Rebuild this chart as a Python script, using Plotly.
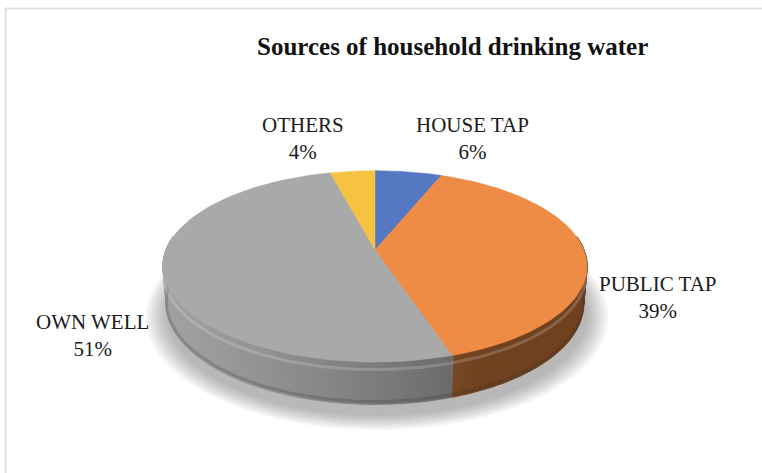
import numpy as np
import plotly.graph_objects as go

# Shares of household drinking water sources (percent)
categories = ["HOUSE TAP", "PUBLIC TAP", "OWN WELL", "OTHERS"]
shares = [6, 39, 51, 4]
top_colors = ["#5677c1", "#ee8c45", "#a9a9a9", "#f5c242"]
wall_tone = [0.85, 0.8, 1.0, 0.9]
label_xy = [(472, 138), (658, 297), (92, 335), (303, 138)]
title_text = "Sources of household drinking water"

W, H = 762, 473
CX, CY = 375, 250            # screen position of the pie centre
ALPHA = np.radians(26.4)     # viewing elevation
DIST = 5.24                  # camera distance (in pie radii)
FOCAL = 1095
THICK = 0.2                  # pie thickness (in pie radii)
LIGHT = np.array([-0.94, -0.34])


def project(phi, r, z):
    """Perspective projection of a point on the pie (phi clockwise from 12 o'clock)."""
    phi = np.asarray(phi, dtype=float)
    X = r * np.sin(phi)
    Yd = r * np.cos(phi)
    v = Yd * np.sin(ALPHA) + z * np.cos(ALPHA)
    w = Yd * np.cos(ALPHA) - z * np.sin(ALPHA)
    s = FOCAL / (DIST + w)
    return CX + X * s, CY - v * s


def shade(hex_color, f):
    h = hex_color.lstrip("#")
    rgb = [int(h[i:i + 2], 16) for i in (0, 2, 4)]
    rgb = [max(0, min(255, int(round(c * f)))) for c in rgb]
    return "rgb({},{},{})".format(*rgb)


fig = go.Figure()

total = float(sum(shares))
bounds = np.concatenate([[0.0], np.cumsum(shares) / total * 2 * np.pi])

# soft drop shadow under the pie
for k in range(10):
    r = 1.0 + 0.011 * (10 - k)
    phi = np.linspace(0, 2 * np.pi, 181)
    x, y = project(phi, r, -THICK - 0.02)
    fig.add_trace(go.Scatter(x=x + 2, y=y + 6, mode="lines", fill="toself",
                             fillcolor="rgba(60,60,60,0.04)", line=dict(width=0),
                             hoverinfo="skip", showlegend=False))

# side walls, split into thin strips for shading
for i in range(len(shares)):
    a0, a1 = bounds[i], bounds[i + 1]
    n = max(2, int(np.degrees(a1 - a0) / 1.0))
    edges = np.linspace(a0, a1, n + 1)
    for j in range(n):
        p0, p1 = edges[j], edges[j + 1]
        mid = 0.5 * (p0 + p1)
        if np.cos(mid) > 0.15:
            continue
        normal = np.array([np.sin(mid), np.cos(mid)])
        f = 0.62 + 0.33 * float(normal @ LIGHT)
        f = max(0.47, min(0.95, max(0.5, f) * wall_tone[i]))
        col = shade(top_colors[i], f)
        # stretch each strip slightly so neighbours overlap without seams
        arc = np.linspace(p0 - 0.004, p1 + 0.004, 3)
        xt, yt = project(arc, 1.0, 0.0)
        xb, yb = project(arc[::-1], 1.0, -THICK)
        fig.add_trace(go.Scatter(x=np.r_[xt, xb, xt[0]], y=np.r_[yt, yb, yt[0]],
                                 mode="lines", fill="toself", fillcolor=col,
                                 line=dict(width=1.2, color=col),
                                 hoverinfo="skip", showlegend=False))

# darker band at the base of the wall and a bevel highlight under the rim
near = np.linspace(np.pi * 0.5, np.pi * 1.5, 120)
xb, yb = project(near, 1.0, -THICK + 0.012)
fig.add_trace(go.Scatter(x=xb, y=yb, mode="lines",
                         line=dict(width=3, color="rgba(40,40,40,0.2)"),
                         hoverinfo="skip", showlegend=False))
xh, yh = project(near, 1.0, -0.035)
fig.add_trace(go.Scatter(x=xh, y=yh, mode="lines",
                         line=dict(width=3, color="rgba(255,255,255,0.18)"),
                         hoverinfo="skip", showlegend=False))

# top faces of the slices
for i in range(len(shares)):
    arc = np.linspace(bounds[i], bounds[i + 1], 80)
    xa, ya = project(arc, 1.0, 0.0)
    x0, y0 = project(0.0, 0.0, 0.0)
    fig.add_trace(go.Scatter(x=np.r_[x0, xa, x0], y=np.r_[y0, ya, y0],
                             mode="lines", fill="toself", fillcolor=top_colors[i],
                             line=dict(width=0.5, color=top_colors[i]),
                             name=categories[i], hoverinfo="name",
                             showlegend=False))

# category labels with their shares
for cat, val, (lx, ly) in zip(categories, shares, label_xy):
    fig.add_annotation(x=lx, y=ly, xref="x", yref="y",
                       text=f"{cat}<br>{val}%", showarrow=False,
                       font=dict(family="Liberation Serif", size=21, color="#1a1a1a"),
                       align="center", xanchor="center", yanchor="middle")

fig.add_annotation(x=452, y=46, xref="x", yref="y", text=f"<b>{title_text}</b>",
                   showarrow=False, xanchor="center", yanchor="middle",
                   font=dict(family="Liberation Serif", size=25, color="#111111"))

# light frame along the top and left edges
fig.add_shape(type="line", x0=5, x1=W, y0=8.5, y1=8.5, xref="x", yref="y",
              line=dict(color="#e2e2e2", width=2))
fig.add_shape(type="line", x0=5.5, x1=5.5, y0=8, y1=H, xref="x", yref="y",
              line=dict(color="#e2e2e2", width=2))

fig.update_layout(
    width=W, height=H, margin=dict(l=0, r=0, t=0, b=0),
    paper_bgcolor="white", plot_bgcolor="white",
    xaxis=dict(range=[0, W], visible=False, fixedrange=True),
    yaxis=dict(range=[H, 0], visible=False, fixedrange=True),
    showlegend=False,
)

fig.write_html("out.html")
